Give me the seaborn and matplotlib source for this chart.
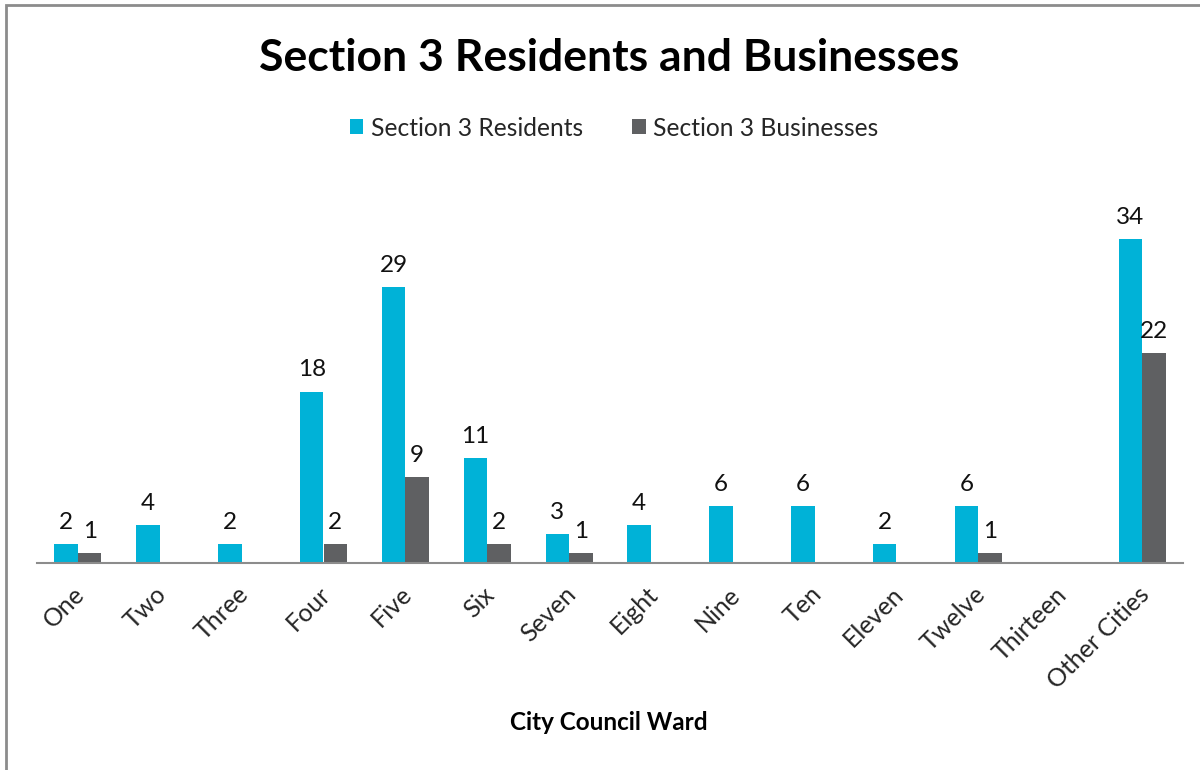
import matplotlib
matplotlib.use("Agg")
import matplotlib.pyplot as plt
import matplotlib.transforms as mtransforms
import seaborn as sns
import pandas as pd
from matplotlib.patches import Rectangle, Patch

categories = ["One", "Two", "Three", "Four", "Five", "Six", "Seven", "Eight",
              "Nine", "Ten", "Eleven", "Twelve", "Thirteen", "Other Cities"]
residents = [2, 4, 2, 18, 29, 11, 3, 4, 6, 6, 2, 6, 0, 34]
businesses = [1, 0, 0, 2, 9, 2, 1, 0, 0, 0, 0, 1, 0, 22]
series_names = ["Section 3 Residents", "Section 3 Businesses"]
colors = ["#00B2D7", "#5F6062"]

df = pd.DataFrame({
    "Ward": categories * 2,
    "Count": residents + businesses,
    "Series": [series_names[0]] * len(categories) + [series_names[1]] * len(categories),
})

sns.set_theme(style="white")
plt.rcParams["font.family"] = ["Lato", "DejaVu Sans"]

fig = plt.figure(figsize=(12, 7.7), dpi=100)
ax = fig.add_axes([37 / 1200, 1 - 563 / 770, 1146 / 1200, 381 / 770])

sns.barplot(data=df, x="Ward", y="Count", hue="Series", order=categories,
            hue_order=series_names, palette=colors, width=0.575, gap=0,
            linewidth=0, saturation=1, ax=ax, legend=False)

ax.set_ylim(0, 40)
ax.set_xlim(-0.5, len(categories) - 0.5)
for s in ["top", "right", "left"]:
    ax.spines[s].set_visible(False)
ax.spines["bottom"].set_color("#8C8C8C")
ax.spines["bottom"].set_linewidth(1.5)
ax.set_yticks([])
ax.set_ylabel("")
ax.set_xlabel("")
ax.tick_params(axis="x", length=0, pad=14, labelsize=18)
offset = mtransforms.ScaledTranslation(-5 / 100, 0, fig.dpi_scale_trans)
for lbl in ax.get_xticklabels():
    lbl.set_rotation(45)
    lbl.set_ha("right")
    lbl.set_va("top")
    lbl.set_rotation_mode("anchor")
    lbl.set_transform(lbl.get_transform() + offset)

for cont in ax.containers:
    labels = [f"{int(b.get_height())}" if b.get_height() > 0 else "" for b in cont]
    ax.bar_label(cont, labels=labels, padding=8, fontsize=17.5, color="#111111")

fig.text(609 / 1200, 1 - 58 / 770, "Section 3 Residents and Businesses",
         ha="center", va="center", fontsize=32, fontweight="bold", color="black")
fig.text(609 / 1200, 1 - 723 / 770, "City Council Ward", ha="center", va="center",
         fontsize=17.5, fontweight="bold", color="black")

handles = [Patch(facecolor=c, edgecolor="none") for c in colors]
fig.legend(handles, series_names, loc="center", bbox_to_anchor=(614 / 1200, 1 - 128 / 770),
           ncol=2, frameon=False, fontsize=17.7, handlelength=0.55, handleheight=0.55,
           handletextpad=0.3, columnspacing=2.0)

fig.patches.append(Rectangle((6 / 1200, -0.1), 1.2, 1 - 5.5 / 770 + 0.1,
                             transform=fig.transFigure, fill=False,
                             edgecolor="#8C8C8C", linewidth=2, figure=fig))

fig.savefig("out.png", dpi=100)
